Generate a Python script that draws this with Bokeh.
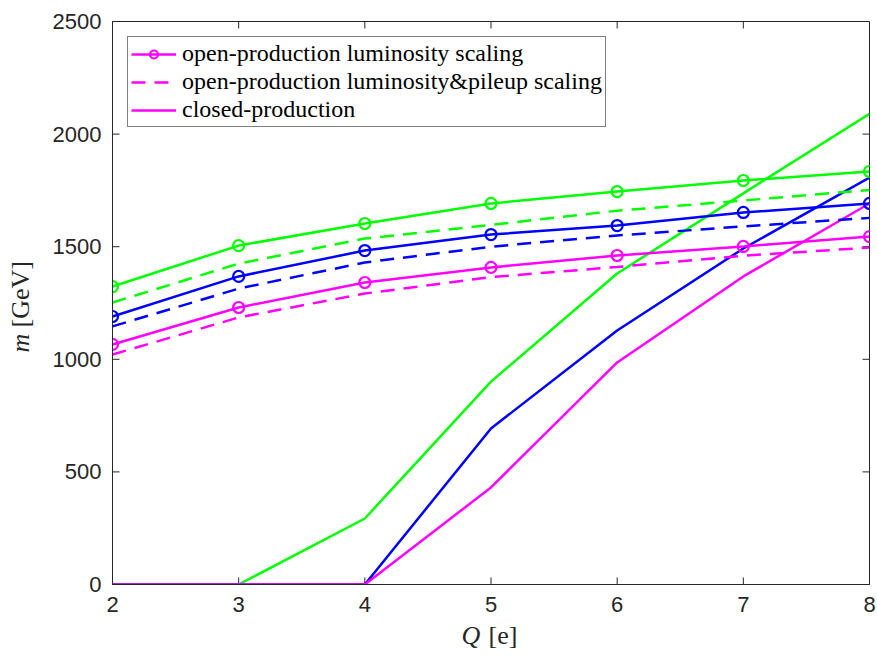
from bokeh.plotting import figure
from bokeh.models import Range1d, LinearAxis, Legend, LegendItem, Title, FixedTicker
from bokeh.embed import file_html
from bokeh.resources import INLINE

Q = [2, 3, 4, 5, 6, 7, 8]

# open-production luminosity scaling (solid + circles)
lumi_green = [1323, 1505, 1603, 1692, 1745, 1794, 1834]
lumi_blue = [1190, 1368, 1483, 1554, 1594, 1652, 1692]
lumi_magenta = [1066, 1230, 1341, 1408, 1461, 1501, 1545]

# open-production luminosity&pileup scaling (dashed)
pile_green = [1252, 1425, 1536, 1597, 1660, 1705, 1752]
pile_blue = [1146, 1314, 1430, 1500, 1550, 1590, 1628]
pile_magenta = [1021, 1186, 1292, 1365, 1410, 1460, 1496]

# closed-production (solid)
closed_green = [0, 0, 293, 901, 1381, 1737, 2090]
closed_blue = [0, 0, 0, 693, 1128, 1492, 1807]
closed_magenta = [0, 0, 0, 431, 986, 1368, 1692]

x_ticks = [2, 3, 4, 5, 6, 7, 8]
y_ticks = [0, 500, 1000, 1500, 2000, 2500]

GREEN = "#00FF00"
BLUE = "#0000FF"
MAGENTA = "#FF00FF"
AXC = "#262626"

X0, X1, Y0, Y1 = 2, 8, 0, 2500
FRAME_W, FRAME_H = 757, 563

p = figure(width=877, height=656, output_backend="svg", toolbar_location=None,
           x_range=Range1d(X0, X1), y_range=Range1d(Y0, Y1),
           min_border_left=112, min_border_right=8, min_border_top=21, min_border_bottom=72)
p.grid.visible = False
p.outline_line_color = AXC
p.outline_line_width = 1
p.background_fill_color = "white"
p.border_fill_color = "white"

def style_axis(ax):
    ax.axis_line_color = AXC
    ax.major_tick_line_color = None
    ax.major_tick_in = 0
    ax.major_tick_out = 0
    ax.minor_tick_line_color = None
    ax.major_label_text_font = "Liberation Sans"
    ax.major_label_text_font_size = "22px"
    ax.major_label_text_color = AXC

p.xaxis.ticker = FixedTicker(ticks=x_ticks)
p.yaxis.ticker = FixedTicker(ticks=y_ticks)
style_axis(p.xaxis[0])
style_axis(p.yaxis[0])
p.xaxis.major_label_standoff = 12
p.yaxis.major_label_standoff = 11

def spacer(size, tick):
    # an axis with one white (invisible) tick that only reserves room
    # between the tick labels and the axis title
    ax = LinearAxis(ticker=FixedTicker(ticks=[tick]))
    ax.axis_line_color = None
    ax.major_tick_line_color = "white"
    ax.minor_tick_line_color = None
    ax.major_tick_in = 0
    ax.major_tick_out = size
    ax.major_label_standoff = 0
    ax.major_label_text_font_size = "0px"
    ax.major_label_text_color = None
    return ax

p.add_layout(spacer(21, X0), "below")
p.add_layout(spacer(29, Y0), "left")

# inward tick marks on all four sides (7 px long)
TICK = 7
dy = TICK * (Y1 - Y0) / FRAME_H
dx = TICK * (X1 - X0) / FRAME_W
p.segment(x0=x_ticks, y0=[Y0] * len(x_ticks), x1=x_ticks, y1=[Y0 + dy] * len(x_ticks),
          line_color=AXC, line_width=1)
p.segment(x0=x_ticks, y0=[Y1] * len(x_ticks), x1=x_ticks, y1=[Y1 - dy] * len(x_ticks),
          line_color=AXC, line_width=1)
p.segment(x0=[X0] * len(y_ticks), y0=y_ticks, x1=[X0 + dx] * len(y_ticks), y1=y_ticks,
          line_color=AXC, line_width=1)
p.segment(x0=[X1] * len(y_ticks), y0=y_ticks, x1=[X1 - dx] * len(y_ticks), y1=y_ticks,
          line_color=AXC, line_width=1)

LW = 2.5
DASH = "14 9"

# closed production
p.line(Q, closed_green, color=GREEN, line_width=LW)
p.line(Q, closed_blue, color=BLUE, line_width=LW)
cm = p.line(Q, closed_magenta, color=MAGENTA, line_width=LW)

# pileup dashed
p.line(Q, pile_green, color=GREEN, line_width=LW, line_dash=DASH)
p.line(Q, pile_blue, color=BLUE, line_width=LW, line_dash=DASH)
pm = p.line(Q, pile_magenta, color=MAGENTA, line_width=LW, line_dash=DASH)

# luminosity solid + circles
rend = {}
for ys, c in [(lumi_green, GREEN), (lumi_blue, BLUE), (lumi_magenta, MAGENTA)]:
    l = p.line(Q, ys, color=c, line_width=LW)
    s = p.scatter(Q, ys, marker="circle", size=11, fill_color=None, line_color=c, line_width=2.2)
    rend[c] = (l, s)

legend = Legend(items=[
    LegendItem(label="open-production luminosity scaling", renderers=list(rend[MAGENTA])),
    LegendItem(label="open-production luminosity&pileup scaling", renderers=[pm]),
    LegendItem(label="closed-production", renderers=[cm]),
], location="top_left")
legend.margin = 15
legend.padding = 3
legend.glyph_width = 45
legend.glyph_height = 20
legend.label_height = 20
legend.label_standoff = 6
legend.spacing = 1
legend.label_text_font = "Liberation Serif"
legend.label_text_font_size = "24px"
legend.label_text_color = "black"
legend.border_line_color = "black"
legend.border_line_width = 1
legend.background_fill_color = "white"
legend.background_fill_alpha = 1
p.add_layout(legend, "center")

# axis labels (mixed italic / upright) as zero-height titles
def ttl(text, offset, italic=False):
    return Title(text=text, align="left", vertical_align="middle", offset=offset,
                 standoff=-31, text_font="Liberation Serif",
                 text_font_style="italic" if italic else "normal",
                 text_font_size="26px", text_color=AXC)

p.add_layout(ttl("Q", 349, italic=True), "below")
p.add_layout(ttl("[e]", 376), "below")
p.add_layout(ttl("m", 232, italic=True), "left")
p.add_layout(ttl("[GeV]", 257), "left")

open("out.html", "w").write(file_html(p, INLINE))
